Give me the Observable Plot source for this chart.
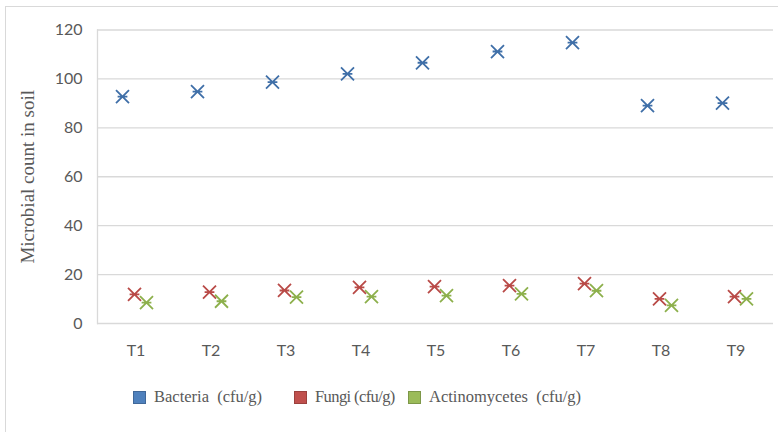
<!DOCTYPE html>
<html>
<head>
<meta charset="utf-8">
<script src="https://cdn.jsdelivr.net/npm/d3@7"></script>
<script src="https://cdn.jsdelivr.net/npm/@observablehq/plot@0.6"></script>
<style>
  html, body { margin: 0; padding: 0; background: #fff; }
  #wrap { position: relative; width: 778px; height: 432px; overflow: hidden; }
  #frame { position: absolute; left: 5px; top: 6px; width: 900px; height: 600px;
           border-left: 1px solid #d9d9d9; border-top: 1px solid #d9d9d9; pointer-events: none; }
  #chart { position: absolute; left: 0; top: 0; }
  #legend { position: absolute; left: 0; top: 386px; width: 778px; height: 24px;
            font-family: "Liberation Serif", "DejaVu Serif", serif; font-size: 16.5px; color: #595959; white-space: pre; }
  #legend .sw { width: 13px; height: 13px; display: inline-block; margin-right: 8px; box-sizing: border-box; }
  #legend .item { position: absolute; top: 0; display: flex; align-items: center; height: 22px; }
</style>
</head>
<body>
<div id="wrap">
  <div id="chart"></div>
  <div id="legend"></div>
  <div id="frame"></div>
</div>
<script>
const treatments = ["T1","T2","T3","T4","T5","T6","T7","T8","T9"];
const bacteria = [92.8, 94.8, 98.7, 102.1, 106.6, 111.2, 114.8, 89.1, 90.1];
const fungi = [11.9, 12.8, 13.5, 14.8, 15.1, 15.5, 16.3, 10.1, 11.0];
const actinomycetes = [8.5, 9.1, 10.8, 11.0, 11.4, 12.1, 13.4, 7.4, 10.1];
const seriesNames = ["Bacteria  (cfu/g)", "Fungi (cfu/g)", "Actinomycetes  (cfu/g)"];
const seriesColors = ["#4F81BD", "#C0504D", "#9BBB59"];
const markerColors = ["#3f6fa8", "#b94a47", "#8db04c"];
const yTicks = [0, 20, 40, 60, 80, 100, 120];
const yTitle = "Microbial count in soil";

const seriesValues = [bacteria, fungi, actinomycetes];
const offsets = [-13.5, -1.5, 10.5];
const legendLefts = [133, 294, 408];

// Excel-like star marker: an X with a horizontal bar
const starX = {
  draw(context, size) {
    const s = Math.sqrt(size / Math.PI);
    context.moveTo(-s, -s); context.lineTo(s, s);
    context.moveTo(-s, s); context.lineTo(s, -s);
    context.moveTo(-s * 0.75, 0); context.lineTo(s * 0.75, 0);
  }
};

const dotMarks = seriesValues.map((vals, i) =>
  Plot.dot(treatments.map((t, j) => ({t, v: vals[j]})), {
    x: "t", y: "v", dx: offsets[i], r: 6.5, symbol: starX,
    fill: "none", stroke: markerColors[i], strokeWidth: 1.8
  })
);

const plot = Plot.plot({
  width: 778,
  height: 370,
  marginLeft: 97,
  marginRight: 5,
  marginTop: 29.5,
  marginBottom: 47,
  style: { fontFamily: "Lato, 'Liberation Sans', sans-serif", fontSize: "16px", color: "#595959", background: "transparent" },
  x: { type: "band", domain: treatments, padding: 0, axis: null },
  y: { domain: [0, 120], axis: null },
  marks: [
    Plot.ruleY(yTicks, { stroke: "#d9d9d9", strokeWidth: 1.3, strokeOpacity: 1 }),
    Plot.frame({ anchor: "left", stroke: "#d9d9d9", strokeWidth: 1.3, strokeOpacity: 1 }),
    Plot.axisY({ ticks: yTicks, tickSize: 0, tickPadding: 15, label: null, fill: "#595959", fontSize: 16 }),
    Plot.axisX({ tickSize: 0, tickPadding: 21, label: null, fill: "#595959", fontSize: 16 }),
    Plot.text([yTitle], { frameAnchor: "left", text: d => d, rotate: -90, dx: -70, textAnchor: "middle",
      fontFamily: "'Liberation Serif', serif", fontSize: 19, fill: "#595959" }),
    ...dotMarks
  ]
});
document.getElementById("chart").appendChild(plot);

const legend = document.getElementById("legend");
seriesNames.forEach((name, i) => {
  const item = document.createElement("div");
  item.className = "item";
  item.style.left = legendLefts[i] + "px";
  const sw = document.createElement("span");
  sw.className = "sw";
  sw.style.background = seriesColors[i];
  sw.style.border = "1px solid " + d3.color(seriesColors[i]).darker(0.6);
  const label = document.createElement("span");
  label.textContent = name;
  if (i === 1) label.style.letterSpacing = "-0.6px";
  item.appendChild(sw);
  item.appendChild(label);
  legend.appendChild(item);
});
</script>
</body>
</html>
